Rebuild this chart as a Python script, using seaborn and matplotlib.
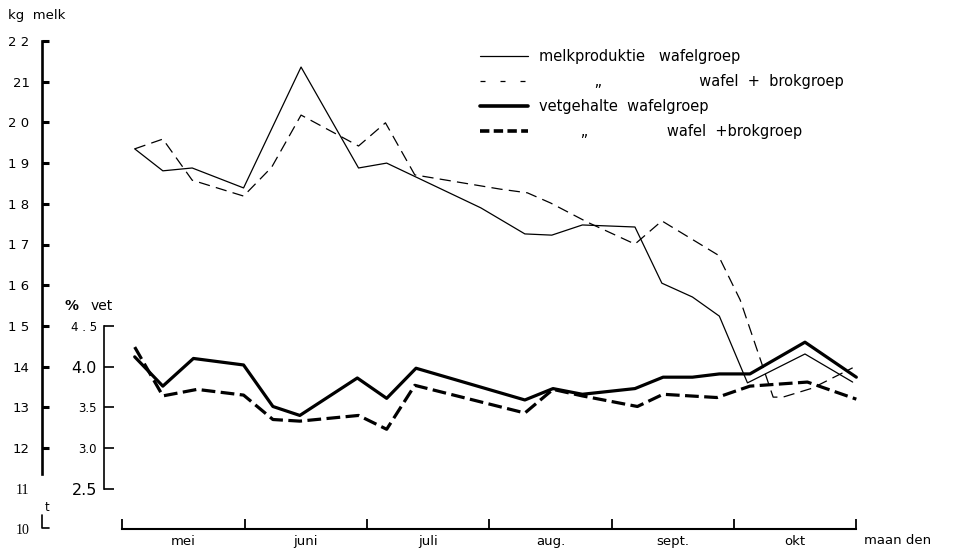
import matplotlib
matplotlib.use("Agg")
import matplotlib.pyplot as plt
import matplotlib.transforms as mtransforms
from matplotlib.lines import Line2D
import seaborn as sns

# ==================================================
# DATA
# x = months since start of May (0 = begin mei, 6 = end okt)
# ==================================================
month_labels = ["mei", "juni", "juli", "aug.", "sept.", "okt"]

kg_ticks = [12, 13, 14, 15, 16, 17, 18, 19, 20, 21, 22]
kg_tick_labels = ["12", "13", "14", "1 5", "1 6", "1 7", "1 8", "1 9", "2 0", "21", "2 2"]
vet_ticks = [2.5, 3.0, 3.5, 4.0, 4.5]
vet_tick_labels = ["2.5", "3.0", "3.5", "4.0", "4 . 5"]

# melkproductie wafelgroep (kg melk)
melk_w_x = [0.10, 0.33, 0.57, 0.99, 1.46, 1.93, 2.16, 2.93, 3.29, 3.51, 3.76,
            4.19, 4.41, 4.66, 4.88, 5.11, 5.58, 5.97]
melk_w_kg = [19.35, 18.81, 18.88, 18.39, 21.36, 18.88, 19.00, 17.90, 17.26, 17.23, 17.48,
             17.43, 16.05, 15.71, 15.24, 13.60, 14.31, 13.62]

# melkproductie wafel + brokgroep (kg melk)
melk_wb_x = [0.10, 0.33, 0.57, 0.99, 1.22, 1.46, 1.93, 2.15, 2.39, 3.09, 3.31,
             3.50, 3.80, 4.19, 4.41, 4.87, 5.05, 5.32, 5.40, 5.64, 5.97]
melk_wb_kg = [19.35, 19.59, 18.58, 18.19, 18.90, 20.18, 19.42, 19.99, 18.71, 18.36, 18.27,
              18.02, 17.55, 17.01, 17.58, 16.74, 15.64, 13.25, 13.25, 13.47, 13.97]

# vetgehalte wafelgroep (% vet)
vet_w_x = [0.10, 0.33, 0.58, 0.99, 1.23, 1.45, 1.92, 2.16, 2.40, 3.29, 3.52,
           3.76, 4.19, 4.42, 4.66, 4.88, 5.13, 5.58, 6.00]
vet_w = [4.12, 3.76, 4.10, 4.02, 3.51, 3.40, 3.86, 3.61, 3.98, 3.59, 3.73,
         3.66, 3.73, 3.87, 3.87, 3.91, 3.91, 4.30, 3.87]

# vetgehalte wafel + brokgroep (% vet)
vet_wb_x = [0.10, 0.33, 0.61, 0.99, 1.23, 1.45, 1.93, 2.16, 2.39, 3.29, 3.52,
            3.76, 4.21, 4.42, 4.86, 5.13, 5.60, 6.00]
vet_wb = [4.24, 3.64, 3.72, 3.65, 3.35, 3.33, 3.40, 3.23, 3.77, 3.43, 3.72,
          3.64, 3.51, 3.66, 3.62, 3.76, 3.81, 3.60]

legend_labels = [
    "melkproduktie   wafelgroep",
    "            \u201e                     wafel  +  brokgroep",
    "vetgehalte  wafelgroep",
    "         \u201e                 wafel  +brokgroep",
]

# ==================================================
# STYLE
# ==================================================
sns.set_theme(style="white")
plt.rcParams["font.family"] = ["DejaVu Sans"]
plt.rcParams["text.color"] = "black"
plt.rcParams["xtick.color"] = "black"
plt.rcParams["ytick.color"] = "black"
plt.rcParams["axes.labelcolor"] = "black"

fig = plt.figure(figsize=(9.55, 5.5), dpi=100)
ax = fig.add_axes([42 / 955, 20.6 / 550, 818 / 955, 529.1 / 550])
ax.set_xlim(-0.658, 6.03)
ax.set_ylim(10, 23)

# ==================================================
# MILK LINES (left axis, kg)
# ==================================================
sns.lineplot(x=melk_w_x, y=melk_w_kg, ax=ax, color="black", linewidth=0.9,
             estimator=None, sort=False, legend=False)
sns.lineplot(x=melk_wb_x, y=melk_wb_kg, ax=ax, color="black", linewidth=0.9,
             estimator=None, sort=False, legend=False, linestyle=(0, (9, 5)))

# ==================================================
# FAT LINES (inner axis, % vet); 4.5 % lines up with 15 kg
# ==================================================
ax2 = ax.twinx()
ax2.set_ylim(10 / 2 - 3, 23 / 2 - 3)
sns.lineplot(x=vet_w_x, y=vet_w, ax=ax2, color="black", linewidth=2.3,
             estimator=None, sort=False, legend=False)
sns.lineplot(x=vet_wb_x, y=vet_wb, ax=ax2, color="black", linewidth=2.3,
             estimator=None, sort=False, legend=False, linestyle=(0, (4.3, 1.7)))

for a in (ax, ax2):
    a.set_xlabel("")
    a.set_ylabel("")
    a.grid(False)

# main axes spines
ax.spines["top"].set_visible(False)
ax.spines["right"].set_visible(False)
ax.spines["left"].set_linewidth(1.9)
ax.spines["left"].set_color("black")
ax.spines["left"].set_bounds(11.35, 22)
ax.spines["bottom"].set_linewidth(1.5)
ax.spines["bottom"].set_color("black")
ax.spines["bottom"].set_bounds(0, 6)

ax.set_yticks(kg_ticks)
ax.set_yticklabels(kg_tick_labels)
ax.set_yticks([10, 11], minor=True)
ax.set_yticklabels(["10", "11"], minor=True, fontfamily="Liberation Serif", fontsize=10)
ax.tick_params(axis="y", which="major", direction="in", length=5, width=2.2,
               color="black", labelcolor="black", labelsize=9.5, pad=9, left=True)
ax.tick_params(axis="y", which="minor", length=0, pad=9, left=True, labelcolor="black")

ax.set_xticks(range(0, 7))
ax.set_xticklabels([""] * 7)
ax.set_xticks([i + 0.5 for i in range(6)], minor=True)
ax.set_xticklabels(month_labels, minor=True)
ax.tick_params(axis="x", which="major", direction="in", length=7, width=1.3,
               color="black", bottom=True)
ax.tick_params(axis="x", which="minor", length=0, labelsize=9.5, pad=4, bottom=True,
               labelcolor="black")

# fat axis spine
for side in ("top", "right", "bottom"):
    ax2.spines[side].set_visible(False)
ax2.spines["left"].set_visible(True)
ax2.spines["left"].set_position(("axes", 62 / 818))
ax2.spines["left"].set_bounds(2.5, 4.5)
ax2.spines["left"].set_linewidth(1.2)
ax2.spines["left"].set_color("black")
ax2.yaxis.set_ticks_position("left")
ax2.yaxis.set_label_position("left")
ax2.set_yticks(vet_ticks)
ax2.set_yticklabels(vet_tick_labels)
ax2.tick_params(axis="y", direction="in", length=7, width=1.2, color="black",
                labelcolor="black", labelsize=8.5, pad=5, left=True, right=False)
for lbl in ax2.get_yticklabels():
    if lbl.get_text() in ("4.0", "2.5"):
        lbl.set_fontsize(11.5)

# axis break mark under the kg axis
brk = mtransforms.blended_transform_factory(ax.transAxes, ax.transData)
ax.plot([0.0, 0.0, 0.009], [10.35, 10.04, 10.04], color="black", lw=1.2,
        transform=brk, clip_on=False)
ax.text(0.003, 10.55, "t", transform=brk, fontsize=8.5, ha="left", va="center")

# axis titles
fig.text(8 / 955, 1 - 16 / 550, "kg  melk", fontsize=9.5, ha="left", va="center")
ax.text(-0.47, 15.5, "%", fontsize=10, fontweight="bold", ha="left", va="center")
ax.text(-0.26, 15.5, "vet", fontsize=10, ha="left", va="center")
ax.text(6.06, 9.72, "maan den", fontsize=9.5, ha="left", va="center", clip_on=False)

# ==================================================
# LEGEND
# ==================================================
handles = [
    Line2D([], [], color="black", linewidth=0.9),
    Line2D([], [], color="black", linewidth=0.9, linestyle=(0, (4, 12))),
    Line2D([], [], color="black", linewidth=2.6),
    Line2D([], [], color="black", linewidth=2.6, linestyle=(0, (2.6, 1.2))),
]
fig.legend(handles, legend_labels, loc="upper left",
           bbox_to_anchor=(480 / 955, 1 - 49 / 550), frameon=False,
           fontsize=10.5, handlelength=3.3, handletextpad=0.75,
           labelspacing=0.68, borderpad=0, borderaxespad=0)

fig.savefig("out.png", dpi=100)
